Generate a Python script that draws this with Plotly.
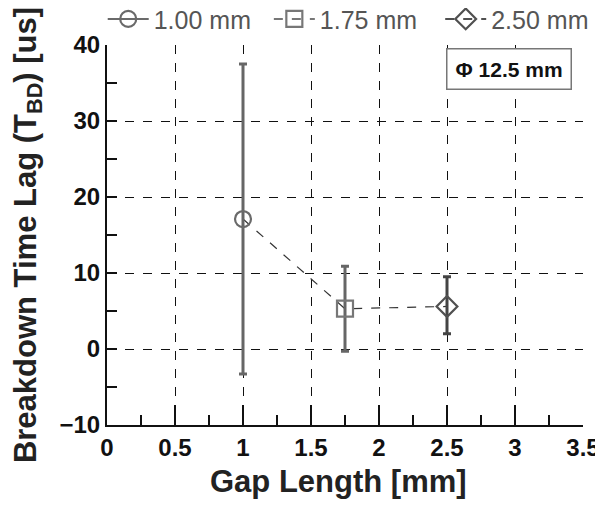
import plotly.graph_objects as go

# Data
gap_mm = [1.00, 1.75, 2.50]
labels = ["1.00 mm", "1.75 mm", "2.50 mm"]
tbd_us = [17.1, 5.3, 5.6]
err_plus = [20.4, 5.6, 3.9]
err_minus = [20.4, 5.6, 3.6]
symbols = ["circle-open", "square-open", "diamond-open"]
colors = ["#6a6a6a", "#777777", "#505050"]
err_colors = ["#666666", "#666666", "#444444"]
leg_dash = ["solid", "dash", "dash"]
legend_ids = ["legend", "legend2", "legend3"]
legend_x = [-0.009, 0.340, 0.700]

fig = go.Figure()

# connecting dashed line
fig.add_trace(go.Scatter(x=gap_mm, y=tbd_us, mode="lines",
                         line=dict(color="#333333", width=1.2, dash="dash"),
                         showlegend=False, hoverinfo="skip"))

for i in range(3):
    fig.add_trace(go.Scatter(
        x=[gap_mm[i]], y=[tbd_us[i]], mode="lines+markers", name=labels[i],
        legend=legend_ids[i],
        marker=dict(symbol=symbols[i], size=16, color=colors[i],
                    line=dict(width=2.2, color=colors[i])),
        line=dict(color=colors[i], width=2, dash=leg_dash[i]),
        error_y=dict(type="data", symmetric=False, array=[err_plus[i]],
                     arrayminus=[err_minus[i]], color=err_colors[i],
                     thickness=3, width=4),
    ))

FAM = "Liberation Sans, Arial"
axis_font = dict(family=FAM, size=24, color="#111111", weight="bold")
xtitle_font = dict(family=FAM, size=31, color="#222222", weight="bold")
ytitle_font = dict(family=FAM, size=31, color="#222222", weight="bold")

fig.update_xaxes(
    range=[0, 3.5], dtick=0.5, tick0=0,
    showline=True, linecolor="#111111", linewidth=2,
    ticks="inside", ticklen=20, tickwidth=2, tickcolor="#111111",
    minor=dict(dtick=0.25, ticks="inside", ticklen=10, tickwidth=2,
               tickcolor="#111111", showgrid=False),
    showgrid=True, gridcolor="#111111", gridwidth=1, griddash="dash",
    zeroline=False, tickfont=axis_font, tickangle=0, automargin=False,
)
fig.update_yaxes(
    range=[-10, 40], dtick=10, tick0=0,
    showline=True, linecolor="#111111", linewidth=2,
    ticks="inside", ticklen=10, tickwidth=2, tickcolor="#111111",
    minor=dict(dtick=5, ticks="inside", ticklen=10, tickwidth=2,
               tickcolor="#111111", showgrid=False),
    showgrid=True, gridcolor="#111111", gridwidth=1, griddash="dash",
    zeroline=False, tickfont=axis_font, automargin=False,
    title=dict(text="Breakdown Time Lag (T<sub>BD</sub>) [us]",
               font=ytitle_font, standoff=14),
)

# x-axis title (placed as text so it sits where the reference has it)
fig.add_annotation(x=0.487, y=-0.15, xref="paper", yref="paper",
                   xanchor="center", yanchor="middle", showarrow=False,
                   text="<b>Gap Length [mm]</b>", font=xtitle_font)

fig.add_annotation(x=0.977, y=0.992, xref="paper", yref="paper",
                   xanchor="right", yanchor="top",
                   text="<b>Φ 12.5 mm</b>", showarrow=False,
                   font=dict(family=FAM, size=21, color="#111111"),
                   bordercolor="#777777", borderwidth=1.5, borderpad=8,
                   bgcolor="white")

legend_common = dict(orientation="h", y=1.068, xanchor="left", yanchor="middle",
                     font=dict(family=FAM, size=25, color="#555555"),
                     bgcolor="rgba(0,0,0,0)", itemwidth=41)

fig.update_layout(
    width=603, height=506,
    margin=dict(l=99, r=28, t=37, b=89, autoexpand=False),
    plot_bgcolor="white", paper_bgcolor="white",
    font=dict(family=FAM),
    legend=dict(x=legend_x[0], **legend_common),
    legend2=dict(x=legend_x[1], **legend_common),
    legend3=dict(x=legend_x[2], **legend_common),
)

fig.write_html("out.html")
